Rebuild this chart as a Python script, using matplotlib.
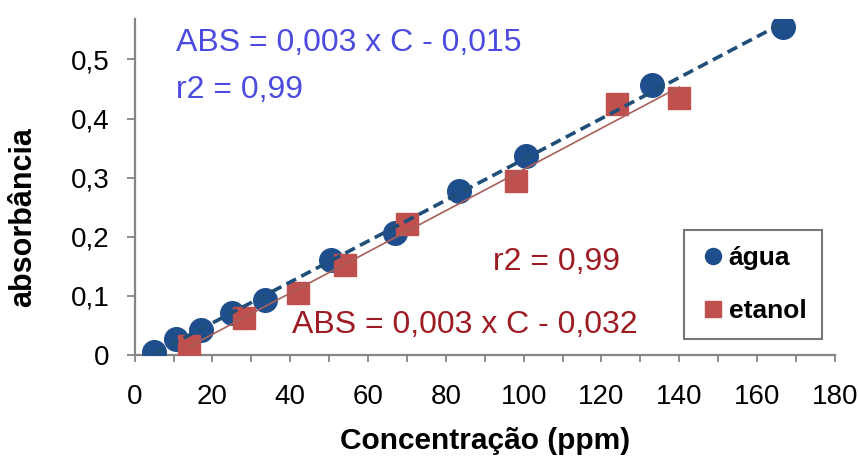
import numpy as np
import matplotlib
matplotlib.use('Agg')
import matplotlib.pyplot as plt

plt.rcParams['font.family'] = ['Liberation Sans', 'DejaVu Sans']

# water (água) calibration points
agua_conc = [5, 10.5, 17, 25, 33.5, 50.5, 67, 83.5, 100.5, 133, 166.7]
agua_abs = [0.006, 0.028, 0.042, 0.071, 0.093, 0.160, 0.207, 0.277, 0.336, 0.457, 0.554]

# ethanol (etanol) calibration points
etanol_conc = [14, 28, 42, 54, 70, 98, 124, 140]
etanol_abs = [0.015, 0.063, 0.105, 0.152, 0.221, 0.295, 0.424, 0.435]

xticks = [0, 20, 40, 60, 80, 100, 120, 140, 160, 180]
yticks = [0, 0.1, 0.2, 0.3, 0.4, 0.5]
ytick_labels = ['0', '0,1', '0,2', '0,3', '0,4', '0,5']

blue = '#1F4E8C'
red = '#C0504D'
axis_gray = '#858585'

fig = plt.figure(figsize=(8.58, 4.57), dpi=100)
ax = fig.add_axes([0.157, 0.223, 0.816, 0.735])

ax.plot(agua_conc, agua_abs, 'o', color=blue, markersize=17, mec=blue, label='água', zorder=3)
ax.plot(etanol_conc, etanol_abs, 's', color=red, markersize=16.5, mec=red, label='etanol', zorder=4)

# linear trendlines
pa = np.polyfit(agua_conc, agua_abs, 1)
xa = np.array([min(agua_conc), max(agua_conc)])
ax.plot(xa, np.polyval(pa, xa), color='#1F4E79', lw=2.6, dashes=(3, 1.6), zorder=5)

pe = np.polyfit(etanol_conc, etanol_abs, 1)
xe = np.array([min(etanol_conc), max(etanol_conc)])
ax.plot(xe, np.polyval(pe, xe), color='#A8605A', lw=1.2, zorder=5)

ax.set_xlim(0, 180)
ax.set_ylim(0, 0.568)
ax.set_xticks(xticks)
ax.set_xticks(np.arange(10, 180, 20), minor=True)
ax.set_yticks(yticks)
ax.set_yticklabels(ytick_labels)

for s in ['top', 'right']:
    ax.spines[s].set_visible(False)
for s in ['left', 'bottom']:
    ax.spines[s].set_color(axis_gray)
    ax.spines[s].set_linewidth(1.6)
ax.spines['bottom'].set_zorder(0)

ax.tick_params(axis='x', which='both', direction='out', length=5, width=1.3, color=axis_gray,
               labelsize=20, pad=16)
ax.tick_params(axis='y', direction='out', length=6, width=1.3, color=axis_gray,
               labelsize=20, pad=12)

ax.set_xlabel('Concentração (ppm)', fontsize=21.5, fontweight='bold', labelpad=12)
fig.text(0.027, 0.525, 'absorbância', rotation=90, fontsize=22, fontweight='bold',
         ha='center', va='center')

ax.text(10.6, 0.528, 'ABS = 0,003 x C - 0,015', color='#4B4BDF', fontsize=23, va='center')
ax.text(10.6, 0.449, 'r2 = 0,99', color='#4B4BDF', fontsize=23, va='center')
ax.text(92, 0.158, 'r2 = 0,99', color='#9E1B23', fontsize=23, va='center')
ax.text(40.5, 0.051, 'ABS = 0,003 x C - 0,032', color='#9E1B23', fontsize=23, va='center')

leg = ax.legend(loc='lower right', bbox_to_anchor=(0.9935, 0.025),
                prop={'weight': 'bold', 'size': 19}, frameon=True, fancybox=False,
                markerscale=0.68, handletextpad=0.1, handlelength=1.0,
                labelspacing=1.1, borderpad=0.6, borderaxespad=0.3)
leg.get_frame().set_edgecolor('#555555')
leg.get_frame().set_linewidth(1.5)

fig.savefig('out.png', dpi=100)
